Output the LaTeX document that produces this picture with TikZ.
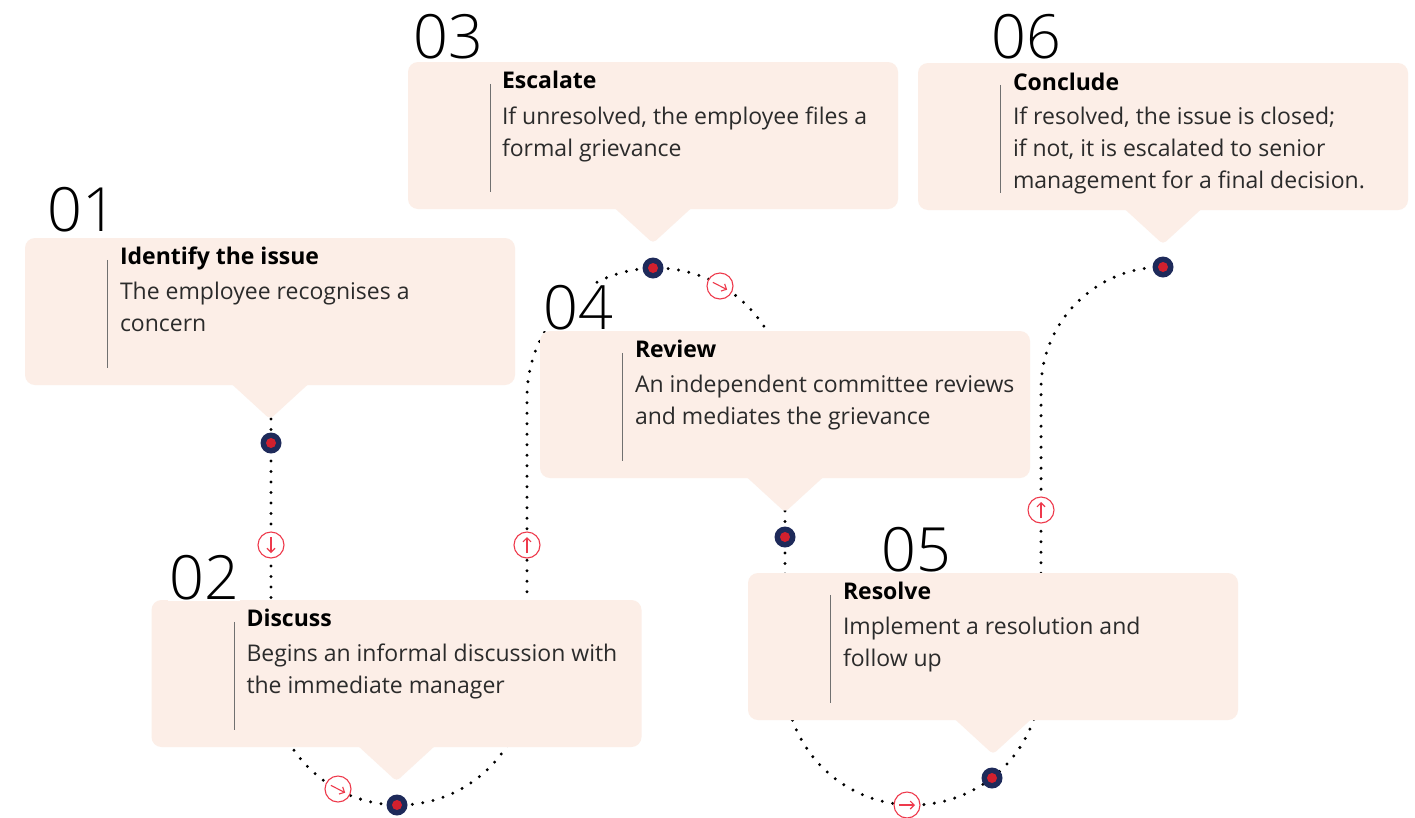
\documentclass[tikz,border=0pt]{standalone}
\usepackage{fontspec}
\setmainfont{Open Sans}
\newfontfamily\numfont{Open Sans Light}
\usetikzlibrary{arrows.meta}
\definecolor{boxfill}{HTML}{FCEEE7}
\definecolor{navy}{HTML}{1E2A5A}
\definecolor{dotred}{HTML}{D1202E}
\definecolor{arrred}{HTML}{EE3A4C}
\definecolor{barcol}{HTML}{707070}
\definecolor{bodytext}{HTML}{2B2B2B}
\tikzset{
  stepbox/.style={fill=boxfill, rounded corners=10pt, minimum width=490pt, minimum height=147pt, inner sep=0pt},
  pointer/.style={fill=boxfill, rounded corners=4pt},
  vbar/.style={draw=barcol, line width=1.3pt},
  ttl/.style={anchor=base west, inner sep=0pt, font=\bfseries\fontsize{23}{27}\selectfont, text=black},
  bodyl/.style={anchor=base west, inner sep=0pt, font=\fontsize{23}{27}\selectfont, text=bodytext},
  num/.style={anchor=base west, inner sep=1pt, fill=white, font=\numfont\fontsize{61}{63}\selectfont, text=black},
  dotline/.style={line width=3.3pt, line cap=round, dash pattern=on 0pt off 10.5pt},
  bigdot/.style={circle, fill=navy, minimum size=21pt, inner sep=0pt},
  arrcirc/.style={circle, draw=arrred, line width=1.1pt, fill=white, minimum size=26pt, inner sep=0pt},
  arrline/.style={draw=arrred, line width=1.1pt, -{Straight Barb[length=4pt, width=8pt]}}
}
\newcommand\arrowmark[3]{% name, position, angle
  \node[arrcirc] (#1) at #2 {};
  \begin{scope}[shift={(#1.center)}, rotate=#3]
    \draw[arrline] (-8,0) -- (8,0);
  \end{scope}}
\begin{document}
\begin{tikzpicture}[x=1pt, y=-1pt]
\useasboundingbox (0,0) rectangle (1415,817);
\fill[white] (0,0) rectangle (1415,817);

% dotted route
\coordinate (p0) at (271,398);
\draw[dotline] (p0) -- (271,677) arc[start angle=180, end angle=0, radius=128]
  -- (527,397) arc[start angle=180, end angle=360, radius=129]
  -- (785,677) arc[start angle=180, end angle=0, radius=128]
  -- (1041,389) arc[start angle=180, end angle=270, radius=122];

% boxes
\node[stepbox] (b1) at (270,311.5) {};
\node[stepbox] (b2) at (396.5,673.5) {};
\node[stepbox] (b3) at (653,135.5) {};
\node[stepbox] (b4) at (785,404.5) {};
\node[stepbox] (b5) at (993,646.5) {};
\node[stepbox] (b6) at (1163,136.5) {};
\foreach \b in {b1,b2,b3,b4,b5,b6}{
  \fill[pointer] ([shift={(-48,-10)}]\b.south) -- ([shift={(0,34)}]\b.south) -- ([shift={(48,-10)}]\b.south) -- cycle;
  \draw[vbar] ([shift={(83,22)}]\b.north west) -- ([shift={(83,130)}]\b.north west);
}

% texts
\node[ttl] (t1) at ([shift={(95,27)}]b1.north west) {Identify the issue};
\node[bodyl] (l11) at ([shift={(95,62)}]b1.north west) {The employee recognises a};
\node[bodyl] (l12) at ([shift={(95,94)}]b1.north west) {concern};

\node[ttl] (t2) at ([shift={(95,27)}]b2.north west) {Discuss};
\node[bodyl] (l21) at ([shift={(95,62)}]b2.north west) {Begins an informal discussion with};
\node[bodyl] (l22) at ([shift={(95,94)}]b2.north west) {the immediate manager};

\node[ttl] (t3) at ([shift={(94,27)}]b3.north west) {Escalate};
\node[bodyl] (l31) at ([shift={(94,63)}]b3.north west) {If unresolved, the employee files a};
\node[bodyl] (l32) at ([shift={(94,95)}]b3.north west) {formal grievance};

\node[ttl] (t4) at ([shift={(95,27)}]b4.north west) {Review};
\node[bodyl] (l41) at ([shift={(95,62)}]b4.north west) {An independent committee reviews};
\node[bodyl] (l42) at ([shift={(95,94)}]b4.north west) {and mediates the grievance};

\node[ttl] (t5) at ([shift={(95,27)}]b5.north west) {Resolve};
\node[bodyl] (l51) at ([shift={(95,62)}]b5.north west) {Implement a resolution and};
\node[bodyl] (l52) at ([shift={(95,94)}]b5.north west) {follow up};

\node[ttl] (t6) at ([shift={(95,28)}]b6.north west) {Conclude};
\node[bodyl] (l61) at ([shift={(95,62)}]b6.north west) {If resolved, the issue is closed;};
\node[bodyl] (l62) at ([shift={(95,94)}]b6.north west) {if not, it is escalated to senior};
\node[bodyl] (l63) at ([shift={(95,126)}]b6.north west) {management for a final decision.};

% numbers
\node[num] (n1) at (46,231) {01};
\node[num] (n2) at (168,599) {02};
\node[num] (n3) at (412,58) {03};
\node[num] (n4) at (542,329) {04};
\node[num] (n5) at (880,571) {05};
\node[num] (n6) at (990,58) {06};

% step dots
\foreach \n/\p in {d1/{(271,443)}, d2/{(397,805)}, d3/{(653,268)}, d4/{(785,537)}, d5/{(992,778)}, d6/{(1163,267)}}{
  \node[bigdot] (\n) at \p {};
  \fill[dotred] (\n) circle (5pt);
}

% direction marks
\arrowmark{a1}{(271,545)}{-90}
\arrowmark{a2}{(338,789)}{-27}
\arrowmark{a3}{(527,545)}{90}
\arrowmark{a4}{(720,286)}{-27}
\arrowmark{a5}{(907,805)}{0}
\arrowmark{a6}{(1041,510)}{90}
\end{tikzpicture}
\end{document}
